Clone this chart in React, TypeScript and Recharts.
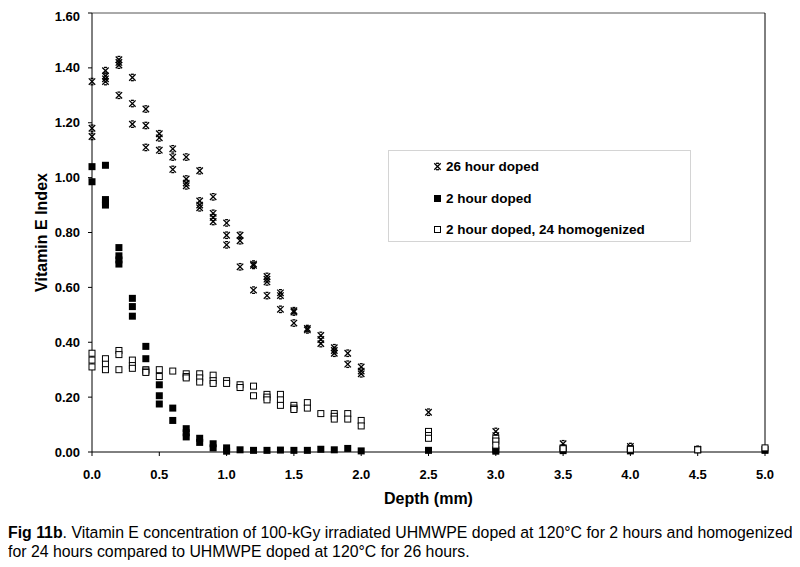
import React from 'react';
import { ScatterChart, Scatter, XAxis, YAxis, ReferenceLine } from 'recharts';

const FONT = '"Liberation Sans", Arial, sans-serif';

// depth (mm) and vitamin E index
const doped26Depth = [
  0, 0, 0, 0.1, 0.1, 0.1, 0.1, 0.2, 0.2, 0.2, 0.2, 0.3, 0.3, 0.3, 0.4, 0.4, 0.4,
  0.5, 0.5, 0.5, 0.6, 0.6, 0.6, 0.7, 0.7, 0.7, 0.7, 0.8, 0.8, 0.8, 0.8, 0.9, 0.9,
  0.9, 0.9, 1.0, 1.0, 1.0, 1.1, 1.1, 1.1, 1.2, 1.2, 1.2, 1.3, 1.3, 1.3, 1.3, 1.4,
  1.4, 1.4, 1.5, 1.5, 1.5, 1.6, 1.6, 1.7, 1.7, 1.7, 1.8, 1.8, 1.8, 1.9, 1.9, 2.0,
  2.0, 2.0, 2.5, 3.0, 3.0, 3.5, 4.0, 4.5, 5.0,
];
const doped26Index = [
  1.35, 1.18, 1.15, 1.39, 1.37, 1.36, 1.35, 1.43, 1.42, 1.41, 1.3, 1.365, 1.27,
  1.195, 1.25, 1.19, 1.11, 1.16, 1.145, 1.1, 1.105, 1.075, 1.03, 1.075, 0.995,
  0.98, 0.97, 1.025, 0.915, 0.9, 0.89, 0.93, 0.87, 0.855, 0.84, 0.835, 0.79,
  0.755, 0.79, 0.77, 0.675, 0.685, 0.68, 0.59, 0.64, 0.63, 0.62, 0.57, 0.58,
  0.57, 0.52, 0.515, 0.51, 0.47, 0.45, 0.445, 0.425, 0.41, 0.395, 0.38, 0.37,
  0.36, 0.36, 0.32, 0.31, 0.295, 0.285, 0.145, 0.075, 0.06, 0.03, 0.02, 0.01,
  0.01,
];

const doped2Depth = [
  0, 0, 0.1, 0.1, 0.1, 0.1, 0.2, 0.2, 0.2, 0.2, 0.3, 0.3, 0.3, 0.4, 0.4, 0.5,
  0.5, 0.5, 0.6, 0.6, 0.7, 0.7, 0.7, 0.8, 0.8, 0.9, 0.9, 1.0, 1.0, 1.1, 1.2,
  1.3, 1.4, 1.5, 1.6, 1.7, 1.8, 1.9, 2.0, 2.5, 3.0, 3.0, 3.5, 3.5, 4.0, 4.0,
  4.5, 5.0,
];
const doped2Index = [
  1.04, 0.985, 1.045, 0.92, 0.91, 0.9, 0.745, 0.715, 0.7, 0.685, 0.56, 0.53,
  0.495, 0.385, 0.34, 0.245, 0.205, 0.175, 0.16, 0.115, 0.085, 0.07, 0.055,
  0.05, 0.035, 0.03, 0.015, 0.015, 0.003, 0.008, 0.006, 0.006, 0.007, 0.006,
  0.006, 0.01, 0.008, 0.013, 0.004, 0.006, 0.008, 0.003, 0.015, 0.005, 0.012,
  0.004, 0.008, 0.006,
];

const homogDepth = [
  0, 0, 0, 0.1, 0.1, 0.1, 0.2, 0.2, 0.2, 0.3, 0.3, 0.3, 0.4, 0.4, 0.4, 0.5, 0.5,
  0.6, 0.7, 0.7, 0.7, 0.8, 0.8, 0.8, 0.9, 0.9, 0.9, 1.0, 1.0, 1.1, 1.1, 1.2, 1.2,
  1.3, 1.3, 1.3, 1.4, 1.4, 1.4, 1.5, 1.5, 1.5, 1.6, 1.6, 1.7, 1.8, 1.8, 1.8, 1.9,
  1.9, 2.0, 2.0, 2.5, 2.5, 2.5, 3.0, 3.0, 3.0, 3.5, 4.0, 4.5, 5.0,
];
const homogIndex = [
  0.36, 0.335, 0.31, 0.34, 0.32, 0.3, 0.37, 0.355, 0.3, 0.335, 0.315, 0.305,
  0.3, 0.295, 0.29, 0.3, 0.275, 0.295, 0.285, 0.275, 0.27, 0.285, 0.27, 0.255,
  0.28, 0.26, 0.25, 0.26, 0.25, 0.245, 0.235, 0.24, 0.205, 0.21, 0.2, 0.19,
  0.21, 0.19, 0.17, 0.17, 0.16, 0.155, 0.18, 0.16, 0.14, 0.14, 0.13, 0.12,
  0.14, 0.12, 0.115, 0.095, 0.075, 0.06, 0.05, 0.05, 0.04, 0.025, 0.012, 0.01,
  0.008, 0.015,
];

const xTicks = [0, 0.5, 1, 1.5, 2, 2.5, 3, 3.5, 4, 4.5, 5];
const yTicks = [0, 0.2, 0.4, 0.6, 0.8, 1.0, 1.2, 1.4, 1.6];

const seriesNames = ['26 hour doped', '2 hour doped', '2 hour doped, 24 homogenized'];

const toPoints = (xs: number[], ys: number[]) => xs.map((x, i) => ({ x, y: ys[i] }));

const StarMark = (props: any) => {
  const { cx, cy } = props;
  const r = 3.2;
  return (
    <g stroke="#000" strokeWidth={1.3} fill="none">
      <line x1={cx - r} y1={cy - r} x2={cx + r} y2={cy + r} />
      <line x1={cx - r} y1={cy + r} x2={cx + r} y2={cy - r} />
      <line x1={cx - 1.5} y1={cy - r} x2={cx + 1.5} y2={cy - r} />
      <line x1={cx - 1.5} y1={cy + r} x2={cx + 1.5} y2={cy + r} />
    </g>
  );
};

const FilledMark = (props: any) => {
  const { cx, cy } = props;
  return <rect x={cx - 3.5} y={cy - 3.5} width={7} height={7} fill="#000" />;
};

const OpenMark = (props: any) => {
  const { cx, cy } = props;
  return (
    <rect x={cx - 3} y={cy - 3} width={6} height={6} fill="#fff" stroke="#000" strokeWidth={1} />
  );
};

const legendIcons = [
  <svg width={9} height={9}><StarMark cx={4.5} cy={4.5} /></svg>,
  <svg width={9} height={9}><rect x={1} y={1} width={7} height={7} fill="#000" /></svg>,
  <svg width={9} height={9}><rect x={1.5} y={1.5} width={6} height={6} fill="#fff" stroke="#000" /></svg>,
];

const LegendBox = () => (
  <div
    style={{
      position: 'absolute',
      left: 380,
      top: 142,
      width: 303,
      height: 92,
      border: '1px solid #d4d4d4',
      background: '#fff',
      fontFamily: FONT,
      fontWeight: 'bold',
      fontSize: 13.5,
      color: '#000',
      boxSizing: 'border-box',
      paddingLeft: 44,
    }}
  >
    {seriesNames.map((name, i) => (
      <div key={name} style={{ height: 31.5, display: 'flex', alignItems: 'center', gap: 4 }}>
        {legendIcons[i]}
        <span>{name}</span>
      </div>
    ))}
  </div>
);

export default function App() {
  const tickStyle = { fontFamily: FONT, fontWeight: 'bold', fontSize: 13, fill: '#000' };
  return (
    <div style={{ width: 792, fontFamily: FONT }}>
      <div style={{ position: 'relative', width: 780, height: 500 }}>
        <ScatterChart
          width={780}
          height={500}
          margin={{ top: 5, right: 23, bottom: 26, left: 34 }}
        >
          <XAxis
            type="number"
            dataKey="x"
            domain={[0, 5]}
            ticks={xTicks}
            tickFormatter={(v: number) => v.toFixed(1)}
            tick={tickStyle}
            tickSize={4}
            tickMargin={14}
            height={30}
            stroke="#000"
            label={{
              value: 'Depth (mm)',
              position: 'bottom',
              offset: 11,
              fontFamily: FONT,
              fontWeight: 'bold',
              fontSize: 16,
              fill: '#000',
            }}
          />
          <YAxis
            type="number"
            dataKey="y"
            domain={[0, 1.6]}
            ticks={yTicks}
            tickFormatter={(v: number) => v.toFixed(2)}
            tick={tickStyle}
            tickSize={4}
            tickMargin={8}
            width={50}
            stroke="#000"
            label={{
              value: 'Vitamin E Index',
              angle: -90,
              position: 'left',
              offset: 1,
              fontFamily: FONT,
              fontWeight: 'bold',
              fontSize: 16,
              fill: '#000',
              textAnchor: 'middle',
            }}
          />
          <ReferenceLine y={1.6} stroke="#555" strokeWidth={1} />
          <ReferenceLine x={5} stroke="#000" strokeWidth={1} />
          <Scatter
            name={seriesNames[0]}
            data={toPoints(doped26Depth, doped26Index)}
            shape={StarMark}
            isAnimationActive={false}
          />
          <Scatter
            name={seriesNames[1]}
            data={toPoints(doped2Depth, doped2Index)}
            shape={FilledMark}
            isAnimationActive={false}
          />
          <Scatter
            name={seriesNames[2]}
            data={toPoints(homogDepth, homogIndex)}
            shape={OpenMark}
            isAnimationActive={false}
          />
        </ScatterChart>
        <LegendBox />
      </div>
      <div
        style={{
          marginTop: 15,
          fontSize: 15.85,
          lineHeight: '19px',
          color: '#000',
          whiteSpace: 'nowrap',
        }}
      >
        <b>Fig 11b</b>. Vitamin E concentration of 100-kGy irradiated UHMWPE doped at 120°C for 2 hours and homogenized
        <br />
        for 24 hours compared to UHMWPE doped at 120°C for 26 hours.
      </div>
    </div>
  );
}
